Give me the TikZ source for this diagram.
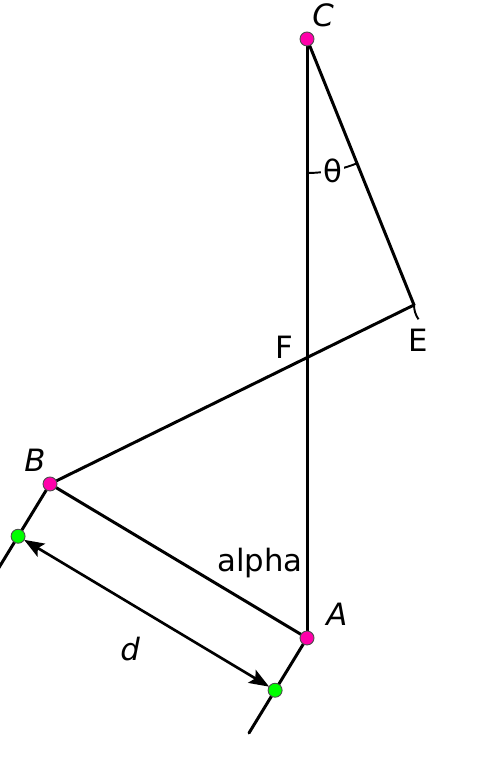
\documentclass[tikz,border=0pt]{standalone}
\usepackage{fontspec}
\setmainfont{DejaVu Sans}
\usepackage{tkz-euclide}
\usetikzlibrary{arrows.meta,calc}
\definecolor{PointClr}{RGB}{255,0,170}
\definecolor{FootClr}{RGB}{0,255,0}

\begin{document}
\begin{tikzpicture}[every node/.style={font=\fontsize{17.5}{20}\selectfont}]
\tkzSetUpLine[line width=1.7pt,color=black]
\useasboundingbox (0,0) rectangle (9.84,15.28);

\tkzDefPoints{6.14/14.50/C, 6.14/2.52/A, 1.00/5.60/B, 8.28/9.18/E, -0.16/3.70/P, 4.98/0.62/Q}
\coordinate (G) at ($(B)!0.55!(P)$);
\coordinate (H) at ($(A)!0.55!(Q)$);
\tkzInterLL(B,E)(C,A) \tkzGetPoint{F}

\tkzDrawSegments(C,A C,E B,E A,B B,P A,Q)

\tkzMarkAngle[line width=1.1pt,size=2.68](A,C,E)
\tkzLabelAngle[pos=2.68,fill=white,inner sep=1pt,font=\fontsize{17.5}{20}\selectfont](A,C,E){θ}
\draw[line width=1.1pt] (E) arc[start angle=180,end angle=215,radius=0.5];

\draw[line width=1.5pt,{Stealth[length=0.4cm,width=0.3cm,inset=0.08cm]}-{Stealth[length=0.4cm,width=0.3cm,inset=0.08cm]},
  shorten <=0.14cm,shorten >=0.14cm] (G) -- (H);

\foreach \p in {A,B,C}
  \filldraw[fill=PointClr,draw=black!70,line width=0.5pt] (\p) circle (0.14);
\foreach \p in {G,H}
  \filldraw[fill=FootClr,draw=black!70,line width=0.5pt] (\p) circle (0.14);

\node (lC) at ([shift={(0.32,0.48)}]C) {\itshape C};
\node (lB) at ([shift={(-0.30,0.48)}]B) {\itshape B};
\node (lA) at ([shift={(0.60,0.48)}]A) {\itshape A};
\node (lE) at ([shift={(0.08,-0.70)}]E) {E};
\node (lF) at ([shift={(-0.46,0.21)}]F) {F};
\node (alpha) at ([shift={(-0.94,1.50)}]A) {alpha};
\node (ld) at ([shift={(-0.33,-0.71)}]$(G)!0.5!(H)$) {\itshape d};

\end{tikzpicture}
\end{document}
